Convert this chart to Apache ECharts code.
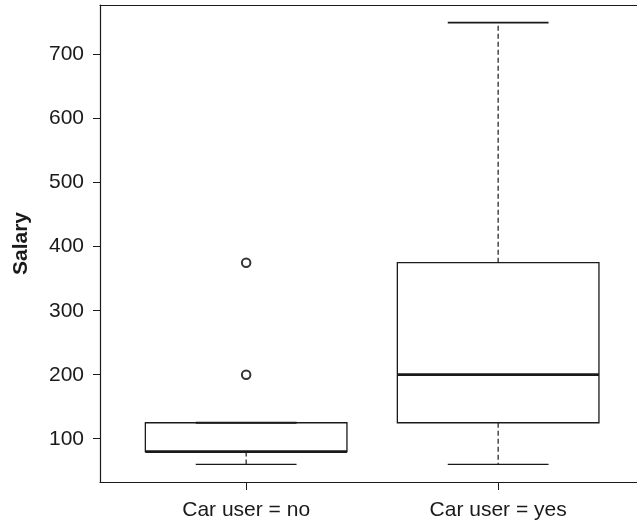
<!DOCTYPE html>
<html>
<head>
<meta charset="utf-8">
<script src="https://cdn.jsdelivr.net/npm/echarts@6/dist/echarts.min.js"></script>
<style>
html,body{margin:0;padding:0;background:#fff;}
#chart{width:637px;height:524px;}
</style>
</head>
<body>
<div id="chart"></div>
<script>
// ---- data ----
const categories = ['Car user = no', 'Car user = yes'];
const whiskerLow = [60, 60];
const q1 = [80, 125];
const median = [80, 200];
const q3 = [125, 375];
const whiskerHigh = [125, 750];
const outlierGroup = [0, 0];
const outlierValue = [200, 375];
const yTicks = [100, 200, 300, 400, 500, 600, 700];

// ---- build ----
const boxData = categories.map((c, i) => [i + 1, whiskerLow[i], q1[i], median[i], q3[i], whiskerHigh[i]]);
const outData = outlierGroup.map((g, i) => [g + 1, outlierValue[i]]);
const ink = '#1a1a1a';
const font = 'Liberation Sans, Arial, Helvetica, sans-serif';

const chart = echarts.init(document.getElementById('chart'), null, {renderer: 'canvas'});
chart.setOption({
  animation: false,
  backgroundColor: '#fff',
  grid: {left: 100, top: 5, bottom: 42, right: 0, show: false, containLabel: false},
  xAxis: [{
    type: 'value', min: 0.42, max: 2.551,
    splitLine: {show: false},
    axisLine: {show: true, onZero: false, lineStyle: {color: ink, width: 1.2}},
    axisTick: {show: true, length: 8, lineStyle: {color: ink}, customValues: [1, 2]},
    axisLabel: {
      customValues: [1, 2], margin: 18, color: ink, fontSize: 21, fontFamily: font,
      formatter: v => categories[Math.round(v) - 1] || ''
    }
  }, {
    type: 'value', position: 'top', min: 0.42, max: 2.551,
    splitLine: {show: false},
    axisLine: {show: true, onZero: false, lineStyle: {color: ink, width: 1.2}},
    axisTick: {show: false}, axisLabel: {show: false}
  }],
  yAxis: {
    type: 'value', min: 32.4, max: 777.6,
    name: 'Salary', nameLocation: 'middle', nameGap: 68,
    nameTextStyle: {color: ink, fontSize: 21, fontWeight: 'bold', fontFamily: font},
    splitLine: {show: false},
    axisLine: {show: true, onZero: false, lineStyle: {color: ink, width: 1.2}},
    axisTick: {show: true, length: 7, lineStyle: {color: ink}, customValues: yTicks},
    axisLabel: {customValues: yTicks, margin: 16, color: ink, fontSize: 21, fontFamily: font}
  },
  series: [
    {
      type: 'custom',
      data: boxData,
      encode: {x: 0, y: [1, 2, 3, 4, 5]},
      renderItem: function (params, api) {
        const x = api.value(0);
        const lo = api.coord([x, api.value(1)]);
        const b1 = api.coord([x, api.value(2)]);
        const md = api.coord([x, api.value(3)]);
        const b3 = api.coord([x, api.value(4)]);
        const hi = api.coord([x, api.value(5)]);
        const boxW = api.size([0.8, 0])[0];
        const capW = api.size([0.4, 0])[0];
        const cx = lo[0];
        const thin = {stroke: ink, lineWidth: 1.2, fill: null};
        const dash = {stroke: ink, lineWidth: 1.2, lineDash: [5, 3], fill: null};
        return {
          type: 'group',
          children: [
            {type: 'line', shape: {x1: cx, y1: b3[1], x2: cx, y2: hi[1]}, style: dash},
            {type: 'line', shape: {x1: cx, y1: b1[1], x2: cx, y2: lo[1]}, style: dash},
            {type: 'line', shape: {x1: cx - capW / 2, y1: hi[1], x2: cx + capW / 2, y2: hi[1]}, style: {stroke: ink, lineWidth: 1.8}},
            {type: 'line', shape: {x1: cx - capW / 2, y1: lo[1], x2: cx + capW / 2, y2: lo[1]}, style: thin},
            {type: 'rect', shape: {x: cx - boxW / 2, y: b3[1], width: boxW, height: b1[1] - b3[1]}, style: {stroke: ink, lineWidth: 1.3, fill: 'rgba(0,0,0,0)'}},
            {type: 'line', shape: {x1: cx - boxW / 2, y1: md[1], x2: cx + boxW / 2, y2: md[1]}, style: {stroke: ink, lineWidth: 2.8}}
          ]
        };
      }
    },
    {
      type: 'scatter',
      data: outData,
      symbol: 'emptyCircle',
      symbolSize: 8.5,
      itemStyle: {color: '#000', borderColor: '#000', borderWidth: 2.6}
    }
  ]
});
</script>
</body>
</html>
